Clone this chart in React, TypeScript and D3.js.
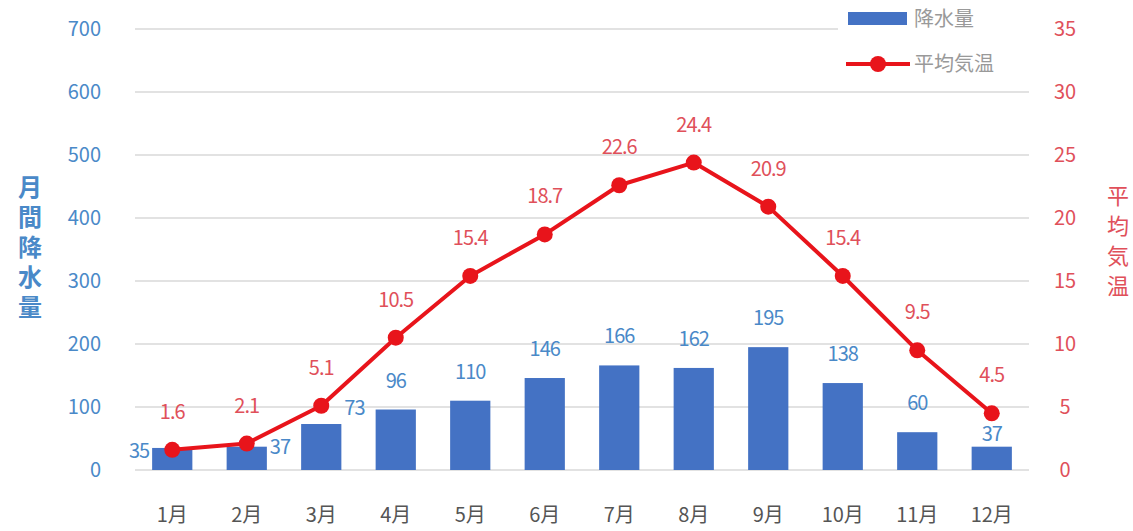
import React from 'react';
import * as d3 from 'd3';

const months = ["1月", "2月", "3月", "4月", "5月", "6月", "7月", "8月", "9月", "10月", "11月", "12月"];
const precipitation = [35, 37, 73, 96, 110, 146, 166, 162, 195, 138, 60, 37];
const temperature = [1.6, 2.1, 5.1, 10.5, 15.4, 18.7, 22.6, 24.4, 20.9, 15.4, 9.5, 4.5];
const precipTicks = [0, 100, 200, 300, 400, 500, 600, 700];
const tempTicks = [0, 5, 10, 15, 20, 25, 30, 35];
// where each rainfall label sits relative to its bar
const precipLabelSide = ["left", "right", "upright", "top", "top", "top", "top", "top", "top", "top", "top", "tight"];
const leftTitle = "月間降水量";
const rightTitle = "平均気温";

const FONT = "'Noto Sans CJK JP', 'Noto Sans', sans-serif";
const BLUE_TEXT = "#4a89c8";
const RED_TEXT = "#e0505a";
const BAR = "#4472c4";
const LINE = "#e8141b";

const App = () => {
    const svgRef = React.useRef<SVGSVGElement>(null);

    const width = 1133;
    const height = 531;

    React.useEffect(() => {
        const svg = d3.select(svgRef.current);
        svg.selectAll("*").remove();

        const x = d3.scaleBand()
            .domain(months)
            .range([135, 1029])
            .paddingInner(0.46)
            .paddingOuter(0.23);

        const yL = d3.scaleLinear().domain([0, 700]).range([470, 29]);
        const yR = d3.scaleLinear().domain([0, 35]).range([470, 29]);
        const cx = (m: string) => (x(m) as number) + x.bandwidth() / 2;

        // grid
        svg.append("g")
            .selectAll("line")
            .data(precipTicks)
            .enter()
                .append("line")
                .attr("x1", 135)
                .attr("x2", 1029)
                .attr("y1", d => yL(d))
                .attr("y2", d => yL(d))
                .attr("stroke", "#d9d9d9")
                .attr("stroke-width", 1.5);

        // left ticks
        svg.append("g")
            .selectAll("text")
            .data(precipTicks)
            .enter()
                .append("text")
                .attr("x", 101)
                .attr("y", d => yL(d))
                .attr("dy", "0.35em")
                .attr("text-anchor", "end")
                .attr("fill", BLUE_TEXT)
                .style("font", `20px ${FONT}`)
                .text(d => d);

        // right ticks
        svg.append("g")
            .selectAll("text")
            .data(tempTicks)
            .enter()
                .append("text")
                .attr("x", 1065)
                .attr("y", d => yR(d))
                .attr("dy", "0.35em")
                .attr("text-anchor", "middle")
                .attr("fill", RED_TEXT)
                .style("font", `20px ${FONT}`)
                .text(d => d);

        // x labels
        svg.append("g")
            .selectAll("text")
            .data(months)
            .enter()
                .append("text")
                .attr("x", d => cx(d))
                .attr("y", 515)
                .attr("dy", "0.35em")
                .attr("text-anchor", "middle")
                .attr("fill", "#555")
                .style("font", `20px ${FONT}`)
                .text(d => d);

        // bars
        svg.append("g")
            .selectAll("rect")
            .data(precipitation)
            .enter()
                .append("rect")
                .attr("x", (d, i) => x(months[i]) as number)
                .attr("y", d => yL(d))
                .attr("width", x.bandwidth())
                .attr("height", d => yL(0) - yL(d))
                .attr("fill", BAR);

        // bar labels
        const labelDy: Record<string, number> = { left: 3, right: 0, upright: -16, top: -29, tight: -13 };
        svg.append("g")
            .selectAll("text")
            .data(precipitation)
            .enter()
                .append("text")
                .attr("x", (d, i) => {
                    const side = precipLabelSide[i];
                    if (side === "left") return (x(months[i]) as number) - 3;
                    if (side === "right" || side === "upright") return (x(months[i]) as number) + x.bandwidth() + 3;
                    return cx(months[i]);
                })
                .attr("y", (d, i) => yL(d) + labelDy[precipLabelSide[i]])
                .attr("dy", "0.35em")
                .attr("text-anchor", (d, i) => {
                    const side = precipLabelSide[i];
                    return side === "left" ? "end" : (side === "right" || side === "upright") ? "start" : "middle";
                })
                .attr("fill", BLUE_TEXT)
                .style("font", `20px ${FONT}`)
                .style("letter-spacing", "-1px")
                .text(d => d);

        // temperature line
        const line = d3.line<number>()
            .x((d, i) => cx(months[i]))
            .y(d => yR(d));

        svg.append("path")
            .datum(temperature)
            .attr("d", line)
            .attr("fill", "none")
            .attr("stroke", LINE)
            .attr("stroke-width", 4)
            .attr("stroke-linejoin", "round");

        svg.append("g")
            .selectAll("circle")
            .data(temperature)
            .enter()
                .append("circle")
                .attr("cx", (d, i) => cx(months[i]))
                .attr("cy", d => yR(d))
                .attr("r", 8)
                .attr("fill", LINE);

        svg.append("g")
            .selectAll("text")
            .data(temperature)
            .enter()
                .append("text")
                .attr("x", (d, i) => cx(months[i]))
                .attr("y", d => yR(d) - 38)
                .attr("dy", "0.35em")
                .attr("text-anchor", "middle")
                .attr("fill", RED_TEXT)
                .style("font", `20px ${FONT}`)
                .style("letter-spacing", "-1px")
                .text(d => d.toFixed(1));

        // axis titles, written vertically
        svg.append("text")
            .attr("x", 30)
            .attr("y", 175)
            .attr("fill", BLUE_TEXT)
            .style("font", `bold 24px ${FONT}`)
            .style("writing-mode", "vertical-rl")
            .style("letter-spacing", "6px")
            .text(leftTitle);

        svg.append("text")
            .attr("x", 1118)
            .attr("y", 185)
            .attr("fill", RED_TEXT)
            .style("font", `22px ${FONT}`)
            .style("writing-mode", "vertical-rl")
            .style("letter-spacing", "8px")
            .text(rightTitle);

        // legend
        const legend = svg.append("g");
        legend.append("rect")
            .attr("x", 838).attr("y", 0).attr("width", 192).attr("height", 80)
            .attr("fill", "#fff");
        legend.append("rect")
            .attr("x", 848).attr("y", 12).attr("width", 59).attr("height", 13)
            .attr("fill", BAR);
        legend.append("text")
            .attr("x", 914).attr("y", 19).attr("dy", "0.35em")
            .attr("fill", "#999")
            .style("font", `20px ${FONT}`)
            .text("降水量");
        legend.append("line")
            .attr("x1", 846).attr("x2", 910).attr("y1", 64).attr("y2", 64)
            .attr("stroke", LINE).attr("stroke-width", 4);
        legend.append("circle")
            .attr("cx", 878).attr("cy", 64).attr("r", 8)
            .attr("fill", LINE);
        legend.append("text")
            .attr("x", 914).attr("y", 64).attr("dy", "0.35em")
            .attr("fill", "#999")
            .style("font", `20px ${FONT}`)
            .text("平均気温");

    // eslint-disable-next-line react-hooks/exhaustive-deps
    }, []);

    return (
        <svg
            ref={svgRef}
            width={width}
            height={height}
            style={{ position: "absolute", left: 0, top: 0, background: "#fff" }}
        />
    );
};

export default App;
